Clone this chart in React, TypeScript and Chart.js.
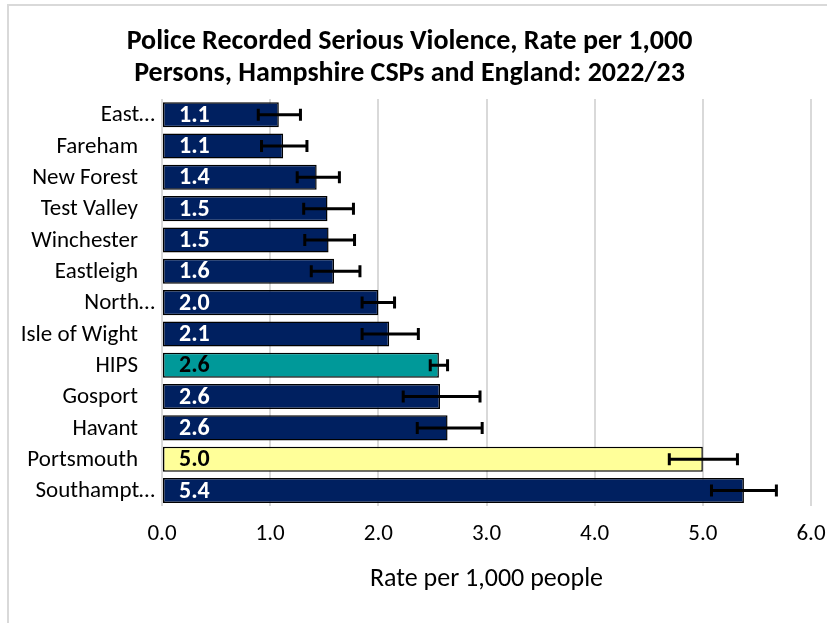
import React, { useEffect, useRef } from "react";
import { Chart, registerables } from "chart.js";

Chart.register(...registerables);

const categories = [
  "East…",
  "Fareham",
  "New Forest",
  "Test Valley",
  "Winchester",
  "Eastleigh",
  "North…",
  "Isle of Wight",
  "HIPS",
  "Gosport",
  "Havant",
  "Portsmouth",
  "Southampt…",
];
const rates = [1.08, 1.12, 1.43, 1.53, 1.54, 1.59, 2.0, 2.1, 2.56, 2.57, 2.64, 5.0, 5.38];
const lowerCI = [0.89, 0.92, 1.25, 1.31, 1.32, 1.38, 1.85, 1.85, 2.48, 2.23, 2.36, 4.69, 5.08];
const upperCI = [1.28, 1.34, 1.64, 1.77, 1.78, 1.83, 2.15, 2.37, 2.64, 2.94, 2.96, 5.32, 5.68];
const xTicks = [0, 1, 2, 3, 4, 5, 6];

const NAVY = "#002060";
const TEAL = "#009999";
const YELLOW = "#FFFF99";
const barColors = categories.map((c) => (c === "HIPS" ? TEAL : c === "Portsmouth" ? YELLOW : NAVY));
const labelColors = categories.map((c) => (c === "HIPS" || c === "Portsmouth" ? "#000000" : "#FFFFFF"));

const FONT = 'Carlito, Calibri, Lato, "Noto Sans", sans-serif';

const errorBarPlugin = {
  id: "errorBars",
  afterDatasetsDraw(chart: any) {
    const ctx = chart.ctx;
    const meta = chart.getDatasetMeta(0);
    const xs = chart.scales.x;
    ctx.save();
    ctx.strokeStyle = "#000";
    ctx.lineWidth = 3;
    meta.data.forEach((bar: any, i: number) => {
      const y = bar.y;
      const x1 = xs.getPixelForValue(lowerCI[i]);
      const x2 = xs.getPixelForValue(upperCI[i]);
      ctx.beginPath();
      ctx.moveTo(x1, y);
      ctx.lineTo(x2, y);
      ctx.moveTo(x1, y - 6);
      ctx.lineTo(x1, y + 6);
      ctx.moveTo(x2, y - 6);
      ctx.lineTo(x2, y + 6);
      ctx.stroke();
    });
    ctx.restore();
  },
};

const dataLabelPlugin = {
  id: "dataLabels",
  afterDatasetsDraw(chart: any) {
    const ctx = chart.ctx;
    const meta = chart.getDatasetMeta(0);
    ctx.save();
    ctx.font = `bold 24px ${FONT}`;
    ctx.textAlign = "left";
    ctx.textBaseline = "middle";
    meta.data.forEach((bar: any, i: number) => {
      ctx.fillStyle = labelColors[i];
      ctx.fillText(rates[i].toFixed(1), bar.base + 16, bar.y + 1);
    });
    ctx.restore();
  },
};

// category labels: Excel-style, truncated labels sit a bit further right
const categoryLabelPlugin = {
  id: "categoryLabels",
  afterDraw(chart: any) {
    const ctx = chart.ctx;
    const ys = chart.scales.y;
    ctx.save();
    ctx.font = `23px ${FONT}`;
    ctx.fillStyle = "#000";
    ctx.textAlign = "right";
    ctx.textBaseline = "middle";
    categories.forEach((c, i) => {
      const y = ys.getPixelForValue(i);
      const x = c.endsWith("…") ? 155 : 138;
      ctx.fillText(c, x, y + 1);
    });
    ctx.restore();
  },
};

export default function App() {
  const ref = useRef<HTMLCanvasElement | null>(null);
  useEffect(() => {
    if (!ref.current) return;
    const chart = new Chart(ref.current, {
      type: "bar",
      data: {
        labels: categories,
        datasets: [
          {
            data: rates,
            backgroundColor: barColors,
            borderColor: "#000",
            borderWidth: 1.5,
            borderSkipped: false,
            categoryPercentage: 0.8,
            barPercentage: 1.0,
          },
        ],
      },
      options: {
        indexAxis: "y",
        animation: false,
        responsive: false,
        devicePixelRatio: 1,
        layout: { padding: { left: 8, right: 25, top: 0, bottom: 28 } },
        plugins: {
          legend: { display: false },
          tooltip: { enabled: false },
          title: {
            display: true,
            text: [
              "Police Recorded Serious Violence, Rate per 1,000",
              "Persons, Hampshire CSPs and England: 2022/23",
            ],
            color: "#000",
            font: { family: FONT, size: 28, weight: "bold", lineHeight: 1.143 },
            padding: { top: 26, bottom: 9 },
          },
        },
        scales: {
          x: {
            min: 0,
            max: 6,
            afterBuildTicks(scale: any) {
              scale.ticks = xTicks.map((v) => ({ value: v }));
            },
            afterFit(scale: any) {
              scale.paddingRight = 0;
              scale.paddingLeft = 0;
            },
            ticks: {
              callback: (v: any) => Number(v).toFixed(1),
              color: "#000",
              font: { family: FONT, size: 23 },
              padding: 14,
              maxRotation: 0,
            },
            grid: { color: "#d9d9d9", lineWidth: 2, drawTicks: false },
            border: { display: false },
            title: {
              display: true,
              text: "Rate per 1,000 people",
              color: "#000",
              font: { family: FONT, size: 26 },
              padding: { top: 2, bottom: 0 },
            },
          },
          y: {
            afterFit(scale: any) {
              scale.width = 154;
            },
            ticks: { display: false },
            grid: { display: false, drawTicks: false },
            border: { display: false },
          },
        },
      },
      plugins: [errorBarPlugin, dataLabelPlugin, categoryLabelPlugin],
    });
    return () => chart.destroy();
  }, []);

  return (
    <div style={{ position: "absolute", left: 0, top: 0, width: 836, height: 623, background: "#fff" }}>
      <div
        style={{
          position: "absolute",
          left: 7,
          top: 4,
          width: 818,
          height: 619,
          borderTop: "2px solid #d9d9d9",
          borderLeft: "2px solid #d9d9d9",
        }}
      />
      <canvas ref={ref} width={836} height={623} style={{ position: "absolute", left: 0, top: 0 }} />
    </div>
  );
}
